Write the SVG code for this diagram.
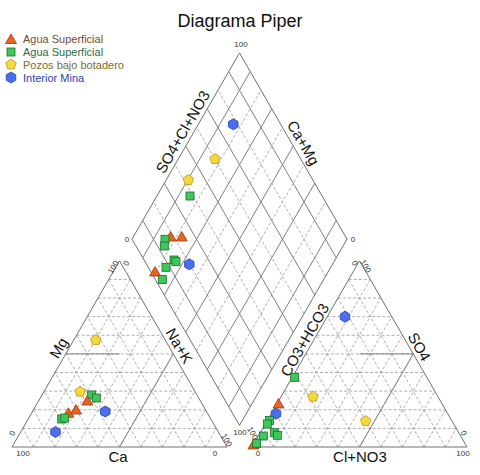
<svg xmlns="http://www.w3.org/2000/svg" xmlns:xlink="http://www.w3.org/1999/xlink" width="480" height="475" viewBox="0 0 480 475">
<style>
.edge{fill:none;stroke:#707070;stroke-width:1}
.grid{fill:none;stroke:#999;stroke-width:0.8;stroke-dasharray:3 2}
.solid{fill:none;stroke:#808080;stroke-width:1}
.title{font-family:"Liberation Sans",Arial,sans-serif;font-size:18px;fill:#111}
.axis{font-family:"Liberation Sans",Arial,sans-serif;font-size:15px;fill:#111;text-anchor:middle}
.tick{font-family:"Liberation Sans",Arial,sans-serif;font-size:8px;fill:#333;text-anchor:middle}
.leg{font-family:"Liberation Sans",Arial,sans-serif;font-size:11px}
.m-tri{fill:#e8641e;stroke:#9a3a10;stroke-width:0.8}
.m-sq{fill:#3cc85a;stroke:#1e6a2e;stroke-width:0.8}
.m-pent{fill:#f7d83a;stroke:#b0981e;stroke-width:0.8}
.m-hex{fill:#4a6ef0;stroke:#2c44a8;stroke-width:0.8}
</style>
<defs>
<polygon id="tri" class="m-tri" points="0,-5.5 5.5,4 -5.5,4"/>
<rect id="sq" class="m-sq" x="-4" y="-4" width="8" height="8"/>
<polygon id="pent" class="m-pent" points="0,-5.5 5.23,-1.7 3.23,4.45 -3.23,4.45 -5.23,-1.7"/>
<polygon id="hex" class="m-hex" points="0,-5.5 4.76,-2.75 4.76,2.75 0,5.5 -4.76,2.75 -4.76,-2.75"/>
<g id="tgrid">
<path class="grid" d="M22.75,428.38H216.25M33.5,409.76H205.5M44.25,391.14H194.75M55,372.52H184M65.75,353.9H173.25M76.5,335.28H162.5M87.25,316.66H151.75M98,298.04H141M108.75,279.42H130.25"/>
<path class="grid" d="M33.5,447L130.25,279.42M55,447L141,298.04M76.5,447L151.75,316.66M98,447L162.5,335.28M119.5,447L173.25,353.9M141,447L184,372.52M162.5,447L194.75,391.14M184,447L205.5,409.76M205.5,447L216.25,428.38"/>
<path class="grid" d="M33.5,447L22.75,428.38M55,447L33.5,409.76M76.5,447L44.25,391.14M98,447L55,372.52M119.5,447L65.75,353.9M141,447L76.5,335.28M162.5,447L87.25,316.66M184,447L98,298.04M205.5,447L108.75,279.42"/>
<polygon class="edge" points="12,447 227,447 119.5,260.8"/>
</g>
</defs>

<text class="title" x="240" y="27" text-anchor="middle">Diagrama Piper</text>

<g id="legend">
<use href="#tri" x="11" y="39.5"/>
<text class="leg" x="23" y="43" fill="#7b4a2b">Agua Superficial</text>
<use href="#sq" x="11" y="52"/>
<text class="leg" x="23" y="56" fill="#2f6b45">Agua Superficial</text>
<use href="#pent" x="11" y="64.5"/>
<text class="leg" x="23" y="68.5" fill="#7d6b2e">Pozos bajo botadero</text>
<use href="#hex" x="11" y="77.5"/>
<text class="leg" x="23" y="81.5" fill="#2d3fb0">Interior Mina</text>
</g>

<g id="cation-triangle">
<use href="#tgrid"/>
<path class="solid" d="M65.75,353.9H119.5M119.5,447L173.25,353.9"/>
<text class="axis" transform="translate(59,348) rotate(-60)" y="5">Mg</text>
<text class="axis" transform="translate(179,346) rotate(60)" y="5">Na+K</text>
<text class="axis" x="118" y="462">Ca</text>
<text class="tick" x="23" y="456">100</text>
<text class="tick" x="215" y="456">0</text>
<text class="tick" transform="translate(113,267) rotate(-60)" y="3">100</text>
<text class="tick" transform="translate(126,263) rotate(-60)" y="3">0</text>
<text class="tick" transform="translate(12,433) rotate(-60)" y="3">0</text>
<text class="tick" transform="translate(227,440) rotate(60)" y="3">100</text>
</g>

<g id="anion-triangle">
<use href="#tgrid" x="240"/>
<path class="solid" d="M359.5,353.9H413.25M359.5,447L413.25,353.9"/>
<text class="axis" transform="translate(305,340) rotate(-60)" y="5">CO3+HCO3</text>
<text class="axis" transform="translate(419,347) rotate(60)" y="5">SO4</text>
<text class="axis" x="360" y="462">Cl+NO3</text>
<text class="tick" x="258" y="456">0</text>
<text class="tick" x="463" y="456">100</text>
<text class="tick" transform="translate(355,263) rotate(60)" y="3">0</text>
<text class="tick" transform="translate(366,266) rotate(60)" y="3">100</text>
<text class="tick" transform="translate(253,433) rotate(60)" y="3">100</text>
<text class="tick" transform="translate(464,433) rotate(60)" y="3">0</text>
</g>

<g id="diamond">
<path class="grid" d="M261,388.11L153.5,201.91M282.5,350.87L175,164.67M304,313.63L196.5,127.43M325.5,276.39L218,90.19"/>
<path class="grid" d="M218,388.11L325.5,201.91M196.5,350.87L304,164.67M175,313.63L282.5,127.43M153.5,276.39L261,90.19"/>
<path class="solid" d="M250.25,406.73L142.75,220.53M271.75,369.49L164.25,183.29M293.25,332.25L185.75,146.05M314.75,295.01L207.25,108.81M336.25,257.77L228.75,71.57"/>
<path class="solid" d="M228.75,406.73L336.25,220.53M207.25,369.49L314.75,183.29M185.75,332.25L293.25,146.05M164.25,295.01L271.75,108.81M142.75,257.77L250.25,71.57"/>
<polygon class="edge" points="239.5,425.35 347,239.15 239.5,52.95 132,239.15"/>
<text class="axis" transform="translate(183,132) rotate(-60)" y="5">SO4+Cl+NO3</text>
<text class="axis" transform="translate(303,143) rotate(60)" y="5">Ca+Mg</text>
<text class="tick" x="241" y="47">100</text>
<text class="tick" x="127" y="242">0</text>
<text class="tick" x="353" y="242">0</text>
<text class="tick" x="240" y="435">100</text>
</g>

<g id="points">
<use href="#hex" x="233.3" y="124.3"/>
<use href="#pent" x="215" y="159"/>
<use href="#pent" x="188.3" y="180"/>
<use href="#sq" x="190" y="196"/>
<use href="#tri" x="170.7" y="237"/>
<use href="#tri" x="181.7" y="237"/>
<use href="#sq" x="165" y="239.3"/>
<use href="#sq" x="164.3" y="246"/>
<use href="#sq" x="174" y="260"/>
<use href="#sq" x="176" y="261.7"/>
<use href="#hex" x="189.3" y="264.3"/>
<use href="#sq" x="166" y="267.3"/>
<use href="#tri" x="155" y="272"/>
<use href="#sq" x="162.3" y="279.5"/>

<use href="#pent" x="95.7" y="340"/>
<use href="#pent" x="80" y="391.7"/>
<use href="#sq" x="91.7" y="395"/>
<use href="#sq" x="96.3" y="398"/>
<use href="#tri" x="87.3" y="401"/>
<use href="#hex" x="105.3" y="411.5"/>
<use href="#tri" x="76" y="410"/>
<use href="#tri" x="68.3" y="413.3"/>
<use href="#sq" x="61.7" y="419"/>
<use href="#sq" x="64.7" y="418"/>
<use href="#hex" x="55.5" y="432"/>

<use href="#hex" x="345" y="316.7"/>
<use href="#sq" x="294.7" y="377.3"/>
<use href="#pent" x="313" y="396.7"/>
<use href="#tri" x="278.5" y="404"/>
<use href="#hex" x="276" y="413.7"/>
<use href="#sq" x="269.5" y="420.5"/>
<use href="#sq" x="267.3" y="424"/>
<use href="#pent" x="365.7" y="421"/>
<use href="#sq" x="274.3" y="432.7"/>
<use href="#sq" x="277.3" y="435.3"/>
<use href="#tri" x="253.5" y="445"/>
<use href="#sq" x="263.3" y="436"/>
<use href="#sq" x="256.7" y="443.3"/>
</g>
</svg>
